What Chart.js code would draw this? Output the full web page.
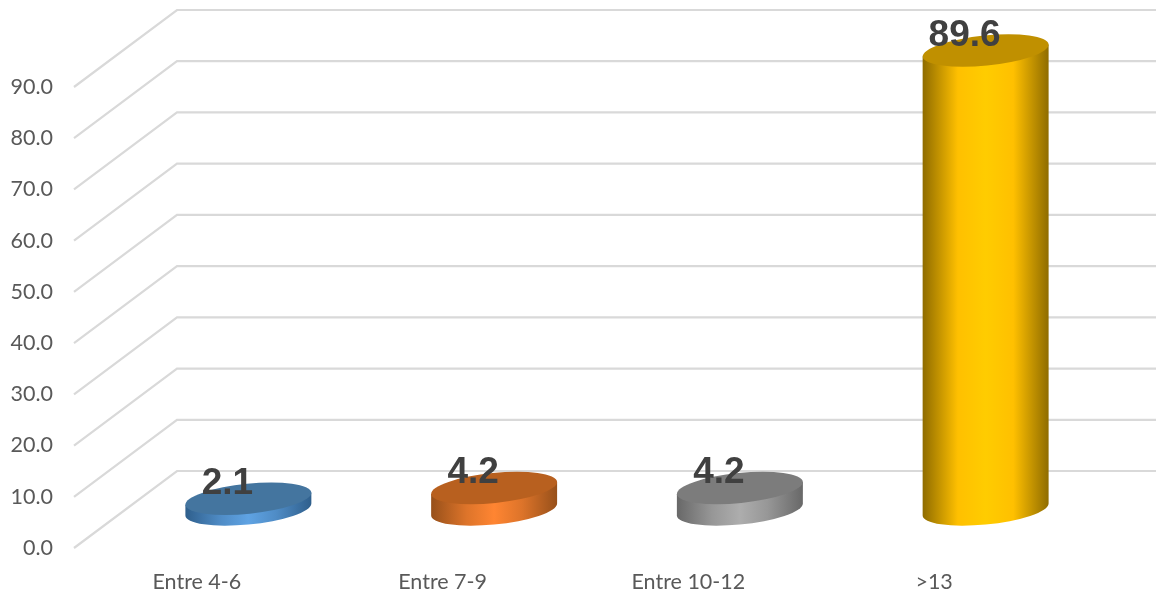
<!DOCTYPE html>
<html>
<head>
<meta charset="utf-8">
<style>
  html, body { margin: 0; padding: 0; background: #fff; }
  #wrap { width: 1156px; height: 592px; }
</style>
<script src="https://cdn.jsdelivr.net/npm/chart.js@4/dist/chart.umd.min.js"></script>
</head>
<body>
<div id="wrap"><canvas id="chart" width="1156" height="592"></canvas></div>
<script>
// Data
const categories = ['Entre 4-6', 'Entre 7-9', 'Entre 10-12', '>13'];
const values = [2.1, 4.2, 4.2, 89.6];

// Cylinder colours: edge, body, highlight, top cap
const shades = [
  ['#2f5f8c', '#4f8cc6', '#5fa3e3', '#44759f'],
  ['#97501a', '#dd742a', '#ff8532', '#b8601f'],
  ['#686868', '#979797', '#adadad', '#7c7c7c'],
  ['#8f6c00', '#ffc000', '#ffcc00', '#c09000']
];

// Fake 3D: how far the back wall sits from the front plane
const wallX = 103;
const wallY = -77;
const tilt = -5.73 * Math.PI / 180;
const capRadiusY = 15;

const wallGrid = {
  id: 'wallGrid',
  beforeDatasetsDraw(chart) {
    const { ctx, scales: { y }, chartArea } = chart;
    ctx.save();
    ctx.strokeStyle = '#d9d9d9';
    ctx.lineWidth = 2.2;
    y.ticks.forEach(t => {
      const py = y.getPixelForValue(t.value);
      ctx.beginPath();
      ctx.moveTo(chartArea.left, py);
      ctx.lineTo(chartArea.left + wallX, py + wallY);
      ctx.lineTo(chartArea.right + wallX, py + wallY);
      ctx.stroke();
    });
    ctx.restore();
  }
};

const cylinders = {
  id: 'cylinders',
  afterDatasetsDraw(chart) {
    const { ctx } = chart;
    const bars = chart.getDatasetMeta(0).data;
    const t0 = Math.atan(-capRadiusY * Math.tan(tilt) / (bars[0].width / 2));

    bars.forEach((bar, i) => {
      const rx = bar.width / 2;
      const cx = bar.x + wallX / 2;
      const top = bar.y + wallY / 2;
      const bottom = bar.base + wallY / 2;
      const s = shades[i];
      const edgeDy = rx * Math.cos(t0) * Math.sin(tilt) + capRadiusY * Math.sin(t0) * Math.cos(tilt);
      const halfW = rx * Math.cos(t0) * Math.cos(tilt) - capRadiusY * Math.sin(t0) * Math.sin(tilt);

      const grad = ctx.createLinearGradient(cx - halfW, 0, cx + halfW, 0);
      grad.addColorStop(0, s[0]);
      grad.addColorStop(0.28, s[1]);
      grad.addColorStop(0.5, s[2]);
      grad.addColorStop(0.72, s[1]);
      grad.addColorStop(1, s[0]);

      ctx.save();
      ctx.beginPath();
      ctx.ellipse(cx, bottom, rx, capRadiusY, tilt, t0, t0 + Math.PI);
      ctx.lineTo(cx - halfW, top - edgeDy);
      ctx.lineTo(cx + halfW, top + edgeDy);
      ctx.closePath();
      ctx.fillStyle = grad;
      ctx.fill();

      ctx.beginPath();
      ctx.ellipse(cx, top, rx, capRadiusY, tilt, 0, Math.PI * 2);
      ctx.fillStyle = s[3];
      ctx.fill();
      ctx.restore();
    });

    // value labels
    ctx.save();
    ctx.font = 'bold 37px "Liberation Sans"';
    ctx.fillStyle = '#404040';
    ctx.textAlign = 'center';
    ctx.textBaseline = 'middle';
    bars.forEach((bar, i) => {
      ctx.fillText(values[i].toFixed(1), bar.x + wallX / 2 - 21, bar.y + wallY / 2 - 15);
    });
    ctx.restore();
  }
};

new Chart(document.getElementById('chart').getContext('2d'), {
  type: 'bar',
  data: {
    labels: categories,
    datasets: [{
      data: values,
      backgroundColor: 'transparent',
      categoryPercentage: 1,
      barPercentage: 0.515
    }]
  },
  options: {
    responsive: false,
    animation: false,
    layout: { padding: { top: 87, right: 99, left: 0, bottom: 0 } },
    plugins: { legend: { display: false }, tooltip: { enabled: false } },
    scales: {
      x: {
        grid: { display: false },
        border: { display: false },
        ticks: { font: { family: 'Lato', size: 21.5 }, color: '#595959', padding: 13, maxRotation: 0 },
        afterFit(axis) { axis.height = 44; }
      },
      y: {
        min: 0,
        max: 90,
        grid: { display: false },
        border: { display: false },
        ticks: {
          stepSize: 10,
          font: { family: 'Lato', size: 21.5 },
          color: '#595959',
          padding: 13,
          callback: v => v.toFixed(1)
        },
        afterFit(axis) { axis.width = 74; }
      }
    }
  },
  plugins: [wallGrid, cylinders]
});
</script>
</body>
</html>
